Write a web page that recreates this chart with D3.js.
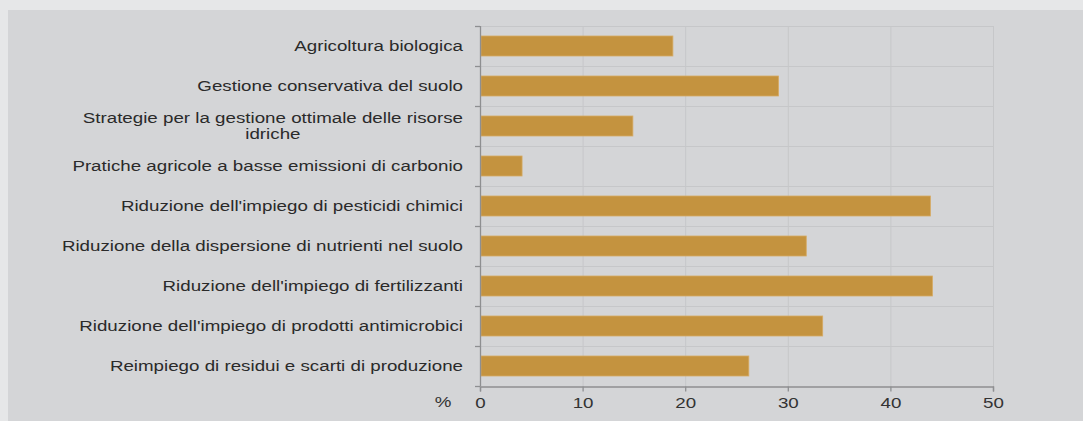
<!DOCTYPE html>
<html>
<head>
<meta charset="utf-8">
<script src="https://cdn.jsdelivr.net/npm/d3@7"></script>
<style>
  html, body { margin: 0; padding: 0; background: #e6e7e8; }
  svg { display: block; font-family: "Liberation Sans", Arial, sans-serif; }
</style>
</head>
<body>
<svg id="chart" width="1083" height="421"></svg>
<script>
// categories, top to bottom
var categories = [
  ["Agricoltura biologica"],
  ["Gestione conservativa del suolo"],
  ["Strategie per la gestione ottimale delle risorse", "idriche"],
  ["Pratiche agricole a basse emissioni di carbonio"],
  ["Riduzione dell'impiego di pesticidi chimici"],
  ["Riduzione della dispersione di nutrienti nel suolo"],
  ["Riduzione dell'impiego di fertilizzanti"],
  ["Riduzione dell'impiego di prodotti antimicrobici"],
  ["Reimpiego di residui e scarti di produzione"]
];
var values = [18.8, 29.1, 14.9, 4.1, 43.9, 31.8, 44.1, 33.4, 26.2];
var xTicks = [0, 10, 20, 30, 40, 50];
var unitLabel = "%";

var svg = d3.select("#chart");
var fontSize = 15, sx = 1.25;   // the source text is drawn a bit stretched

// grey panel
svg.append("rect")
  .attr("x", 8).attr("y", 10)
  .attr("width", 1075).attr("height", 411)
  .attr("fill", "#d4d5d7");

var plotLeft = 480, plotRight = 993, plotTop = 26, plotBottom = 386;

var x = d3.scaleLinear().domain([0, 50]).range([plotLeft, plotRight]);
var y = d3.scaleBand()
  .domain(d3.range(categories.length))
  .range([plotTop, plotBottom])
  .paddingInner(0.5)
  .paddingOuter(0.25);

// vertical grid
svg.append("g").selectAll("line")
  .data(xTicks.slice(1))
  .enter().append("line")
  .attr("x1", function(d) { return x(d) + 0.5; })
  .attr("x2", function(d) { return x(d) + 0.5; })
  .attr("y1", plotTop).attr("y2", plotBottom)
  .attr("stroke", "#c6c7c9").attr("stroke-width", 1);

// horizontal grid at band boundaries
var step = y.step();
var bounds = d3.range(categories.length + 1).map(function(i) { return plotTop + i * step; });
svg.append("g").selectAll("line")
  .data(bounds.slice(0, -1))
  .enter().append("line")
  .attr("x1", plotLeft).attr("x2", plotRight)
  .attr("y1", function(d) { return d + 0.5; })
  .attr("y2", function(d) { return d + 0.5; })
  .attr("stroke", "#c6c7c9").attr("stroke-width", 1);

// bars
svg.append("g").selectAll("rect")
  .data(values)
  .enter().append("rect")
  .attr("x", x(0) + 1)
  .attr("y", function(d, i) { return y(i); })
  .attr("width", function(d) { return x(d) - x(0) - 1; })
  .attr("height", y.bandwidth())
  .attr("fill", "#c4933f")
  .attr("stroke", "#d6ab64")
  .attr("stroke-width", 0.8);

// y axis: line + ticks at band boundaries
svg.append("line")
  .attr("x1", plotLeft + 0.5).attr("x2", plotLeft + 0.5)
  .attr("y1", plotTop).attr("y2", plotBottom)
  .attr("stroke", "#8e8f91").attr("stroke-width", 1.3);
svg.append("g").selectAll("line")
  .data(bounds)
  .enter().append("line")
  .attr("x1", plotLeft - 5).attr("x2", plotLeft)
  .attr("y1", function(d) { return d + 0.5; })
  .attr("y2", function(d) { return d + 0.5; })
  .attr("stroke", "#8e8f91").attr("stroke-width", 1.3);

// x axis
var xAxis = svg.append("g")
  .attr("transform", "translate(0," + (plotBottom + 0.5) + ")")
  .call(d3.axisBottom(x).tickValues(xTicks).tickSize(5).tickPadding(6));
xAxis.select(".domain").attr("stroke", "#8e8f91").attr("stroke-width", 1.3);
xAxis.selectAll(".tick line").attr("stroke", "#8e8f91").attr("stroke-width", 1.3);
xAxis.selectAll("text")
  .attr("font-size", fontSize)
  .attr("font-family", "Liberation Sans, Arial, sans-serif")
  .attr("fill", "#333")
  .attr("transform", "scale(" + sx + ",1)");

svg.append("text")
  .attr("transform", "translate(443,407) scale(" + sx + ",1)")
  .attr("text-anchor", "middle")
  .attr("font-size", fontSize)
  .attr("fill", "#333")
  .text(unitLabel);

// category labels
var labelRight = 463;
var labels = svg.append("g").selectAll("g")
  .data(categories)
  .enter().append("g")
  .attr("transform", function(d, i) {
    return "translate(0," + (y(i) + y.bandwidth() / 2) + ") scale(" + sx + ",1)";
  });

labels.each(function(lines) {
  var g = d3.select(this);
  var t = g.append("text")
    .attr("font-size", fontSize)
    .attr("fill", "#2a2a2a")
    .attr("text-anchor", "end")
    .attr("x", labelRight / sx)
    .attr("dy", "0.35em");
  if (lines.length === 1) {
    t.text(lines[0]);
  } else {
    t.text(lines[0]).attr("y", -8);
    var w = t.node().getComputedTextLength();
    g.append("text")
      .attr("font-size", fontSize)
      .attr("fill", "#2a2a2a")
      .attr("text-anchor", "middle")
      .attr("x", labelRight / sx - w / 2)
      .attr("y", 8)
      .attr("dy", "0.35em")
      .text(lines[1]);
  }
});
</script>
</body>
</html>
